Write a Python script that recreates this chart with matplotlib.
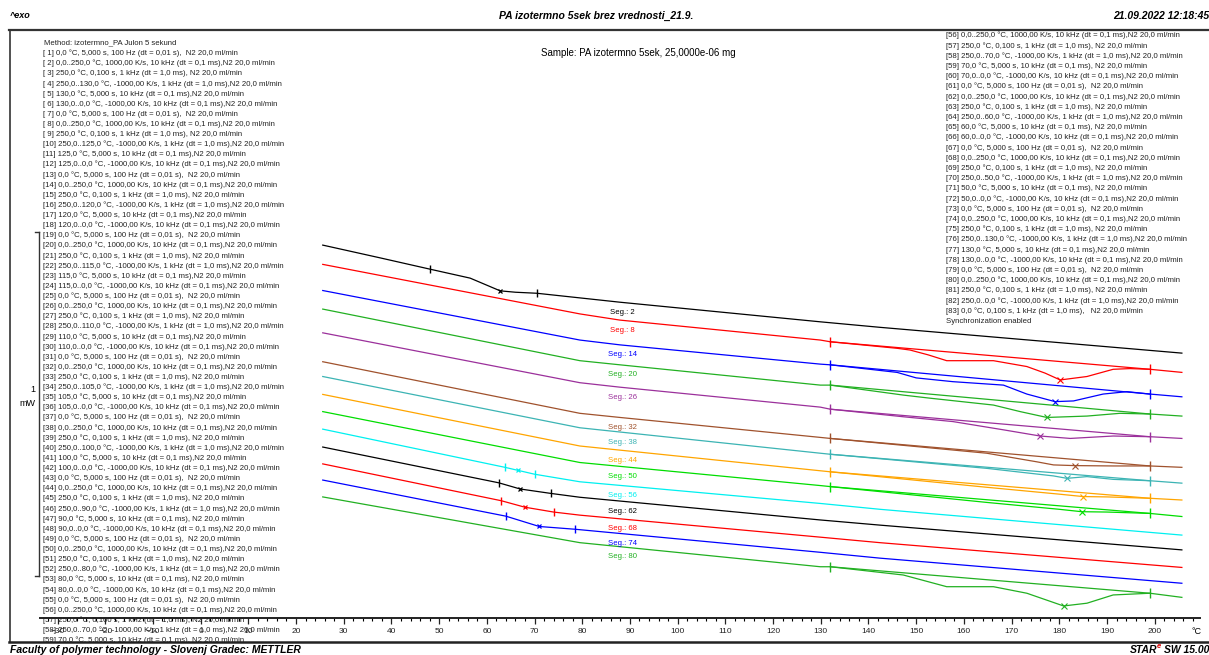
import numpy as np
import matplotlib
matplotlib.use('Agg')
import matplotlib.pyplot as plt
from matplotlib import font_manager
from matplotlib.transforms import blended_transform_factory

names = {f.name for f in font_manager.fontManager.ttflist}
narrow = 'Liberation Sans Narrow' if 'Liberation Sans Narrow' in names else 'Liberation Sans'
plt.rcParams['font.family'] = ['Liberation Sans', 'DejaVu Sans']

# ---- data (temperature in degC, heat flow in mW, arbitrary offset) ----
segments = [2, 8, 14, 20, 26, 32, 38, 44, 50, 56, 62, 68, 74, 80]
colors = ['#000000', '#ff0000', '#0000ff', '#22b022', '#9b309b', '#a0522d', '#3cb4b4',
          '#ffa500', '#00dd00', '#00f0f0', '#000000', '#ff0000', '#0000ff', '#22b022']

t_02 = [25.6, 37.6, 48.1, 56.5, 62.8, 66.0, 70.5, 87.9, 129.9, 142.4, 205.7]
hf_02 = [1.084, 1.047, 1.014, 0.988, 0.951, 0.947, 0.944, 0.918, 0.861, 0.845, 0.770]

t_08 = [25.6, 79.5, 87.9, 129.9, 132.0, 146.0, 148.7, 152.5, 156.4, 166.2, 173.2, 177.0,
        180.2, 185.8, 191.3, 194.8, 199.0, 205.7]
hf_08 = [1.028, 0.884, 0.866, 0.808, 0.803, 0.784, 0.779, 0.765, 0.748, 0.748, 0.731, 0.712,
         0.692, 0.702, 0.723, 0.725, 0.723, 0.714]

t_14 = [25.6, 79.5, 87.9, 129.9, 132.0, 146.0, 150.0, 157.7, 168.3, 173.2, 179.1, 183.0,
        189.2, 194.2, 199.0, 205.7]
hf_14 = [0.952, 0.808, 0.794, 0.738, 0.736, 0.714, 0.698, 0.687, 0.677, 0.651, 0.629, 0.631,
         0.651, 0.658, 0.651, 0.643]

t_20 = [25.6, 79.5, 87.9, 129.9, 132.0, 147.3, 152.9, 166.2, 171.8, 177.4, 185.8, 192.7,
        199.0, 205.7]
hf_20 = [0.898, 0.748, 0.736, 0.677, 0.677, 0.648, 0.639, 0.619, 0.600, 0.583, 0.587, 0.595,
         0.593, 0.587]

t_26 = [25.6, 79.5, 87.9, 129.9, 132.0, 147.3, 157.7, 168.3, 176.0, 182.3, 191.3, 199.0, 205.7]
hf_26 = [0.829, 0.684, 0.671, 0.613, 0.607, 0.585, 0.571, 0.547, 0.529, 0.522, 0.529, 0.527, 0.522]

t_32 = [25.6, 79.5, 87.9, 129.9, 132.0, 164.8, 175.3, 178.8, 183.3, 191.3, 199.0, 205.7]
hf_32 = [0.745, 0.595, 0.583, 0.525, 0.522, 0.479, 0.454, 0.445, 0.443, 0.442, 0.442, 0.438]

t_38 = [25.6, 79.5, 129.9, 132.0, 164.8, 178.8, 181.6, 185.8, 191.3, 199.0, 205.7]
hf_38 = [0.702, 0.553, 0.479, 0.476, 0.435, 0.413, 0.406, 0.411, 0.403, 0.399, 0.392]

t_44 = [25.6, 79.5, 129.9, 132.0, 164.8, 180.0, 185.0, 190.0, 199.0, 205.7]
hf_44 = [0.650, 0.500, 0.428, 0.425, 0.380, 0.360, 0.353, 0.352, 0.348, 0.343]

t_50 = [25.6, 79.5, 129.9, 132.0, 164.8, 180.0, 184.7, 190.0, 199.0, 205.7]
hf_50 = [0.600, 0.452, 0.385, 0.382, 0.336, 0.316, 0.309, 0.308, 0.304, 0.295]

t_56 = [25.6, 63.8, 70.0, 79.5, 129.9, 142.4, 205.7]
hf_56 = [0.549, 0.438, 0.418, 0.396, 0.333, 0.316, 0.241]

t_62 = [25.6, 62.5, 67.0, 73.5, 79.5, 129.9, 142.4, 205.7]
hf_62 = [0.497, 0.393, 0.375, 0.362, 0.351, 0.285, 0.270, 0.198]

t_68 = [25.6, 63.0, 68.0, 74.0, 79.5, 129.9, 142.4, 205.7]
hf_68 = [0.448, 0.341, 0.322, 0.308, 0.299, 0.235, 0.219, 0.147]

t_74 = [25.6, 64.0, 71.0, 78.5, 129.9, 142.4, 205.7]
hf_74 = [0.401, 0.296, 0.266, 0.258, 0.191, 0.174, 0.101]

t_80 = [25.6, 79.5, 129.9, 132.0, 147.3, 156.4, 166.2, 173.2, 180.9, 185.8, 191.3, 199.0, 205.7]
hf_80 = [0.352, 0.219, 0.149, 0.149, 0.125, 0.091, 0.091, 0.072, 0.035, 0.043, 0.067, 0.072, 0.060]

curves_t = [t_02, t_08, t_14, t_20, t_26, t_32, t_38, t_44, t_50, t_56, t_62, t_68, t_74, t_80]
curves_hf = [hf_02, hf_08, hf_14, hf_20, hf_26, hf_32, hf_38, hf_44, hf_50, hf_56, hf_62, hf_68, hf_74, hf_80]

# integration limits and peak temperatures
limits_T = [132.0, 199.0]
peak_T = {8: 180.2, 14: 179.1, 20: 177.4, 26: 176.0, 32: 183.3, 38: 181.6, 44: 185.0, 50: 184.7, 80: 180.9}
# glass transition marks (onset, end) and midpoint
tg_limits = {2: [48.1, 70.5], 56: [63.8, 70.0], 62: [62.5, 73.5], 68: [63.0, 74.0], 74: [64.0, 78.5]}
tg_mid = {2: 62.8, 56: 66.5, 62: 67.0, 68: 68.0, 74: 71.0}

iso_temps = [130, 125, 120, 115, 110, 105, 100, 90, 80, 70, 60, 50, 130]

method = []
for k, ti in enumerate(iso_temps):
    n = 6 * k
    sep = ',' if ti >= 100 else ', '
    method.append(f'[{n+1:2d}] 0,0 °C, 5,000 s, 100 Hz (dt = 0,01 s),  N2 20,0 ml/min')
    method.append(f'[{n+2:2d}] 0,0..250,0 °C, 1000,00 K/s, 10 kHz (dt = 0,1 ms),N2 20,0 ml/min')
    method.append(f'[{n+3:2d}] 250,0 °C, 0,100 s, 1 kHz (dt = 1,0 ms), N2 20,0 ml/min')
    method.append(f'[{n+4:2d}] 250,0..{ti},0 °C, -1000,00 K/s, 1 kHz (dt = 1,0 ms),N2 20,0 ml/min')
    method.append(f'[{n+5:2d}] {ti},0 °C, 5,000 s, 10 kHz (dt = 0,1 ms){sep}N2 20,0 ml/min')
    method.append(f'[{n+6:2d}] {ti},0..0,0 °C, -1000,00 K/s, 10 kHz (dt = 0,1 ms),N2 20,0 ml/min')
method.append('[79] 0,0 °C, 5,000 s, 100 Hz (dt = 0,01 s),  N2 20,0 ml/min')
method.append('[80] 0,0..250,0 °C, 1000,00 K/s, 10 kHz (dt = 0,1 ms),N2 20,0 ml/min')
method.append('[81] 250,0 °C, 0,100 s, 1 kHz (dt = 1,0 ms), N2 20,0 ml/min')
method.append('[82] 250,0..0,0 °C, -1000,00 K/s, 1 kHz (dt = 1,0 ms),N2 20,0 ml/min')
method.append('[83] 0,0 °C, 0,100 s, 1 kHz (dt = 1,0 ms),   N2 20,0 ml/min')

# ---- figure ----
W, H = 1209, 655
fig = plt.figure(figsize=(W / 100, H / 100), dpi=100)

page = fig.add_axes([0, 0, 1, 1])
page.set_xlim(0, W)
page.set_ylim(H, 0)
page.axis('off')

# header / footer
page.plot([9, W], [30, 30], color='#333333', lw=1.6)
page.plot([10, 10], [30, 642], color='#333333', lw=1.2)
page.plot([9, W], [642, 642], color='#222222', lw=1.8)
bi = dict(fontweight='bold', style='italic', family=narrow, va='center')
page.text(10, 16, '^exo', fontsize=6.5, **bi)
page.text(596, 16, 'PA izotermno 5sek brez vrednosti_21.9.', fontsize=7.5, ha='center', **bi)
page.text(1209, 16, '21.09.2022 12:18:45', fontsize=7.5, ha='right', **bi)
page.text(638, 53, 'Sample: PA izotermno 5sek, 25,0000e-06 mg', fontsize=7, ha='center', va='center')
page.text(10, 650, 'Faculty of polymer technology - Slovenj Gradec: METTLER', fontsize=7.5, **bi)
page.text(1209, 650, 'SW 15.00', fontsize=7.5, ha='right', **bi)
page.text(1157, 650, 'STAR', fontsize=7.5, ha='right', **bi)
page.text(1157, 646, 'e', fontsize=5.5, color='#dd0000', **bi)
page.text(1197, 632, '°C', fontsize=6.5, family=narrow, ha='center', va='center')
page.text(35, 390, '1', fontsize=6.5, ha='right', va='center')
page.text(35, 404, 'mW', fontsize=6.5, ha='right', va='center')

# method text (clipped by frame)
tbox = fig.add_axes([10 / W, 1 - 642 / H, (W - 10) / W, (642 - 30) / H])
tbox.set_xlim(10, W)
tbox.set_ylim(642, 30)
tbox.axis('off')
tkw = dict(fontsize=5.6, family=narrow, va='center', color='#222222', clip_on=True)
tbox.text(44, 43.2, 'Method: izotermno_PA Julon 5 sekund', **tkw)
for i, line in enumerate(method[:59]):
    tbox.text(43, 53.3 + i * 10.12, line, **tkw)
for i, line in enumerate(method[55:] + ['Synchronization enabled']):
    tbox.text(946, 35.5 + i * 10.2, line, **tkw)

# data axes
ax = fig.add_axes([40 / W, 1 - 618 / H, 1160 / W, 588 / H])
ax.patch.set_alpha(0)
ax.set_xlim(-33.67, 209.5)
ax.set_ylim(0, 588 / 344)
for s in ['top', 'left', 'right']:
    ax.spines[s].set_visible(False)
ax.spines['bottom'].set_linewidth(1.4)
ax.spines['bottom'].set_color('#222222')
ax.set_yticks([])
ax.set_xticks(np.arange(-30, 201, 10))
ax.set_xticks(np.arange(-32, 210, 2), minor=True)
ax.tick_params(axis='x', which='major', length=4.5, width=0.9, pad=2.5, labelsize=6, colors='#222222')
ax.tick_params(axis='x', which='minor', length=2.5, width=0.8)
for lab in ax.get_xticklabels():
    lab.set_family(narrow)

# 1 mW scale bar
tr = blended_transform_factory(ax.transAxes, ax.transData)
y0 = (618 - 576) / 344
ax.plot([-0.0012, -0.0012], [y0, y0 + 1.0], color='#333333', lw=1.0, transform=tr, clip_on=False)
ax.plot([-0.0045, -0.0012], [y0, y0], color='#333333', lw=1.0, transform=tr, clip_on=False)
ax.plot([-0.0045, -0.0012], [y0 + 1.0, y0 + 1.0], color='#333333', lw=1.0, transform=tr, clip_on=False)

for seg, col, t, hf in zip(segments, colors, curves_t, curves_hf):
    ax.plot(t, hf, color=col, lw=0.9)
    if seg in peak_T:
        yl = np.interp(limits_T, t, hf)
        ax.plot(limits_T, yl, color=col, lw=0.9)
        ax.plot(limits_T, yl, ls='none', marker='|', ms=7, mew=1.0, color=col)
        ax.plot(peak_T[seg], np.interp(peak_T[seg], t, hf), ls='none', marker='x', ms=4, mew=0.8, color=col)
    if seg in tg_limits:
        ax.plot(tg_limits[seg], np.interp(tg_limits[seg], t, hf), ls='none', marker='|', ms=6, mew=1.0, color=col)
        ax.plot(tg_mid[seg], np.interp(tg_mid[seg], t, hf), ls='none', marker='x', ms=3, mew=0.9, color=col)
    ax.annotate(f'Seg.: {seg}', (88.5, np.interp(88.5, t, hf)), xytext=(0, -7), textcoords='offset points',
                ha='center', va='center', fontsize=5.6, color=col)

fig.savefig('out.png', dpi=100)
